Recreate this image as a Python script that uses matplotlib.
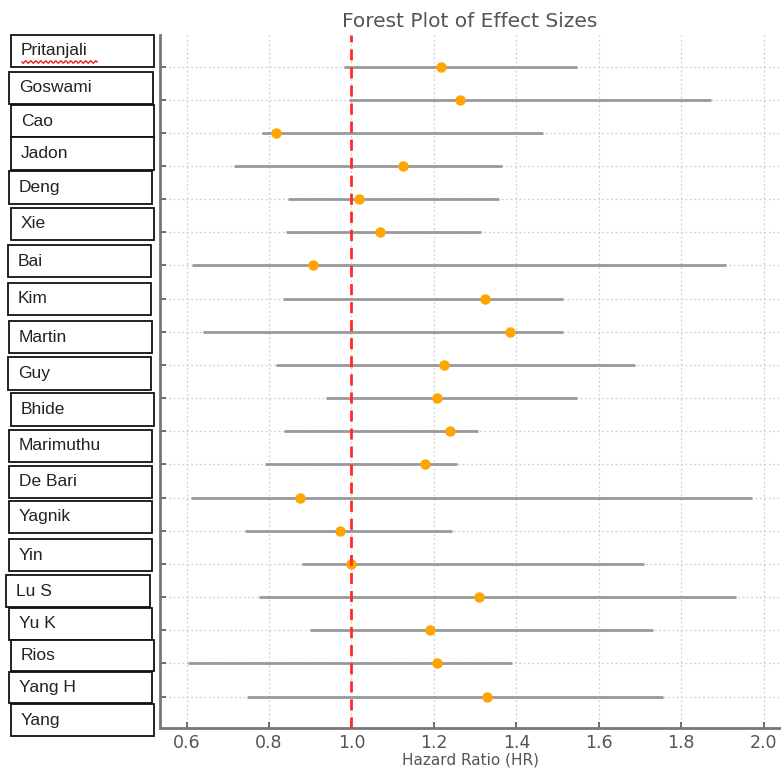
import numpy as np
import matplotlib
matplotlib.use("Agg")
import matplotlib.pyplot as plt
from matplotlib.patches import Rectangle
from matplotlib.lines import Line2D

studies = ["Pritanjali", "Goswami", "Cao", "Jadon", "Deng", "Xie", "Bai", "Kim",
           "Martin", "Guy", "Bhide", "Marimuthu", "De Bari", "Yagnik", "Yin",
           "Lu S", "Yu K", "Rios", "Yang H", "Yang"]
hr = [1.218, 1.264, 0.816, 1.124, 1.018, 1.069, 0.906, 1.323, 1.384, 1.225,
      1.208, 1.238, 1.178, 0.876, 0.973, 1.000, 1.309, 1.191, 1.208, 1.329]
ci_low = [0.981, 0.995, 0.784, 0.714, 0.847, 0.842, 0.614, 0.835, 0.639, 0.818,
          0.939, 0.836, 0.790, 0.610, 0.743, 0.880, 0.775, 0.900, 0.604, 0.747]
ci_high = [1.547, 1.872, 1.465, 1.366, 1.357, 1.315, 1.908, 1.513, 1.514, 1.688,
           1.547, 1.307, 1.256, 1.971, 1.245, 1.710, 1.933, 1.731, 1.390, 1.756]
xticks = [0.6, 0.8, 1.0, 1.2, 1.4, 1.6, 1.8, 2.0]

W, H = 781, 769
fig = plt.figure(figsize=(W / 100, H / 100), dpi=100)
ax = fig.add_axes([160 / W, 1 - 728 / H, (780 - 160) / W, (728 - 35) / H])

txt = "#555555"
ypos = np.arange(len(hr))
xerr = [np.array(hr) - np.array(ci_low), np.array(ci_high) - np.array(hr)]
ax.errorbar(hr, ypos, xerr=xerr, fmt="o", color="#FFA500", ms=6.5,
            ecolor="#999999", elinewidth=2, capsize=0, zorder=3)
ax.axvline(1.0, color="#FF2A2A", ls=(0, (4, 2.5)), lw=2, zorder=4)

ax.margins(x=0.05, y=0.05)
ax.invert_yaxis()
ax.set_yticks(ypos)
ax.set_yticklabels([])
ax.set_xticks(xticks)
ax.set_xticklabels([f"{t:.1f}" for t in xticks])
ax.tick_params(axis="both", direction="in", colors=txt, labelsize=12.5,
               length=4, width=1.2, pad=4)
ax.grid(True, ls=(0, (1.5, 2)), color="#d0d0d0", lw=0.9)
ax.set_axisbelow(True)
for s in ["top", "right"]:
    ax.spines[s].set_visible(False)
for s in ["left", "bottom"]:
    ax.spines[s].set_color("#777777")
    ax.spines[s].set_linewidth(2)
ax.set_title("Forest Plot of Effect Sizes", color=txt, fontsize=14.5, pad=6)
ax.set_xlabel("Hazard Ratio (HR)", color=txt, fontsize=11, labelpad=1)

# name boxes (pixel layout: left, top, right, bottom)
boxes = [(11, 35, 154, 67), (9, 72, 153, 104), (11, 105, 154, 137), (11, 137, 154, 170),
         (9, 171, 152, 204), (11, 208, 154, 240), (8, 245, 151, 277), (8, 283, 151, 315),
         (9, 321, 152, 353), (8, 357, 151, 390), (11, 393, 154, 426), (9, 430, 152, 462),
         (9, 466, 152, 498), (9, 501, 152, 533), (9, 539, 152, 571), (6, 575, 150, 607),
         (9, 608, 152, 640), (11, 640, 154, 671), (9, 672, 152, 703), (11, 704, 154, 736)]
for name, (l, t, r, b) in zip(studies, boxes):
    fig.patches.append(Rectangle((l / W, 1 - b / H), (r - l) / W, (b - t) / H,
                                 transform=fig.transFigure, fill=True, fc="white",
                                 ec="#111111", lw=1.3, zorder=5))
    fig.text((l + 10) / W, 1 - ((t + b) / 2) / H, name, fontsize=12.5,
             family="Liberation Sans", color="#222222", va="center", ha="left",
             zorder=6)

# spell-check squiggle under first name
xs = np.linspace(22, 97, 60)
ys = 62 + 1.3 * np.sin((xs - 22) * 2 * np.pi / 5)
fig.lines.append(Line2D(xs / W, 1 - ys / H, transform=fig.transFigure,
                        color="#e02020", lw=1, zorder=7))

fig.savefig("out.png", dpi=100)
